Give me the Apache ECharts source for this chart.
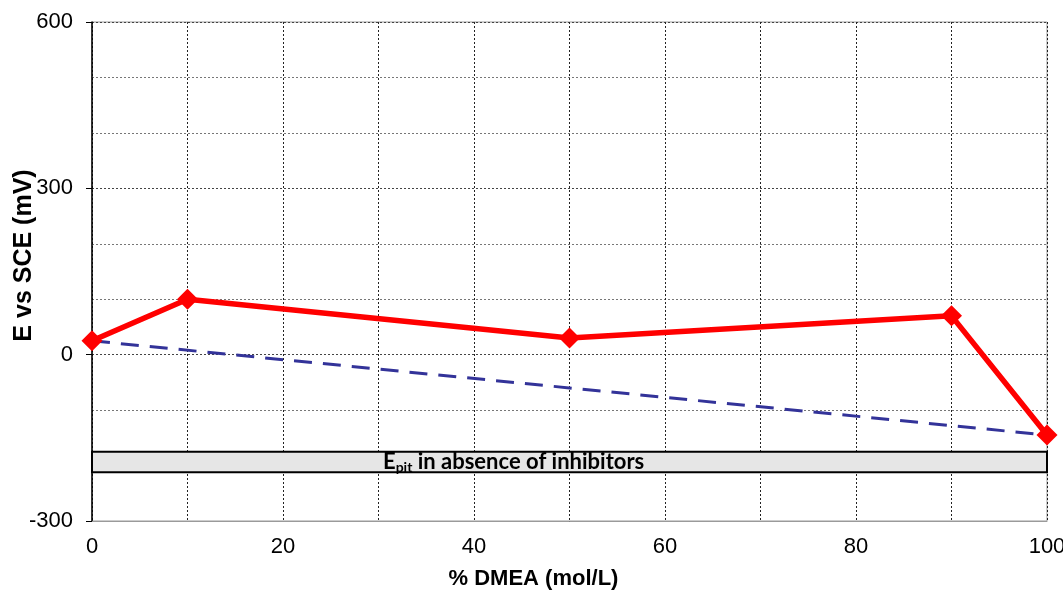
<!DOCTYPE html>
<html><head><meta charset="utf-8">
<script src="https://cdn.jsdelivr.net/npm/echarts@6/dist/echarts.min.js"></script>
<style>html,body{margin:0;padding:0;background:#fff}#c{width:1063px;height:590px}</style>
</head><body><div id="c"></div>
<script>
const dmea = [0, 10, 50, 90, 100];
const potential = [25, 100, 30, 70, -145];
const refDmea = [0, 100];
const refPotential = [25, -145];
const bandRange = [-175, -212];
const xTicks = [0, 20, 40, 60, 80, 100];
const yTicks = [-300, 0, 300, 600];

const chart = echarts.init(document.getElementById('c'));
chart.setOption({
  animation: false,
  grid: {left: 92, right: 16, top: 22, bottom: 69, containLabel: false, outerBoundsMode: 'none',
         show: true, borderColor: '#9a9a9a', borderWidth: 1},
  xAxis: {
    type: 'value', min: xTicks[0], max: xTicks[xTicks.length-1], interval: 20,
    name: '% DMEA (mol/L)', nameLocation: 'middle', nameGap: 47, nameMoveOverlap: false,
    nameTextStyle: {fontFamily: 'Liberation Sans', fontWeight: 'bold', fontSize: 22, color: '#000', padding: [0, 72, 0, 0]},
    axisLine: {show: true, onZero: false, lineStyle: {color: '#9a9a9a', width: 1}},
    axisTick: {show: false},
    axisLabel: {fontFamily: 'Liberation Sans', fontSize: 22, color: '#000', margin: 15},
    splitLine: {show: true, lineStyle: {color: '#222', type: [2, 2], width: 1}},
    minorTick: {show: false, splitNumber: 2},
    minorSplitLine: {show: true, lineStyle: {color: '#222', type: [2, 2], width: 1}}
  },
  yAxis: {
    type: 'value', min: yTicks[0], max: yTicks[yTicks.length-1], interval: 300,
    name: 'E vs SCE (mV)', nameLocation: 'middle', nameGap: 55, nameMoveOverlap: false,
    nameTextStyle: {fontFamily: 'Liberation Sans', fontWeight: 'bold', fontSize: 25, color: '#000', padding: [0, 0, 0, 32]},
    axisLine: {show: true, onZero: false, lineStyle: {color: '#000', width: 1.5}},
    axisTick: {show: true, length: 6, lineStyle: {color: '#000'}},
    axisLabel: {fontFamily: 'Liberation Sans', fontSize: 22, color: '#000', margin: 19},
    splitLine: {show: true, lineStyle: {color: '#444', type: [2, 2], width: 1}},
    minorTick: {show: false, splitNumber: 3},
    minorSplitLine: {show: true, lineStyle: {color: '#777', type: [2, 2], width: 1}}
  },
  series: [
    {
      type: 'line', z: 3,
      data: refDmea.map((x, i) => [x, refPotential[i]]),
      showSymbol: false, symbol: 'none',
      lineStyle: {color: '#333399', width: 3, type: [18, 11]},
      markArea: {
        silent: true,
        itemStyle: {color: '#e6e6e6', borderColor: '#000', borderWidth: 2},
        label: {
          show: true, position: 'insideLeft', offset: [287, 0],
          formatter: () => '{a|E}{b|pit}{a| in absence of inhibitors}',
          rich: {
            a: {fontFamily: 'Lato', fontWeight: 'bold', fontSize: 22, color: '#000'},
            b: {fontFamily: 'Lato', fontWeight: 'bold', fontSize: 14, color: '#000', padding: [11, 0, 0, 0]}
          }
        },
        data: [[{coord: [xTicks[0], bandRange[0]]}, {coord: [xTicks[xTicks.length-1], bandRange[1]]}]]
      }
    },
    {
      type: 'line', z: 4,
      data: dmea.map((x, i) => [x, potential[i]]),
      symbol: 'diamond', symbolSize: 21,
      itemStyle: {color: '#ff0000'},
      lineStyle: {color: '#ff0000', width: 5.5}
    }
  ]
});
</script></body></html>
